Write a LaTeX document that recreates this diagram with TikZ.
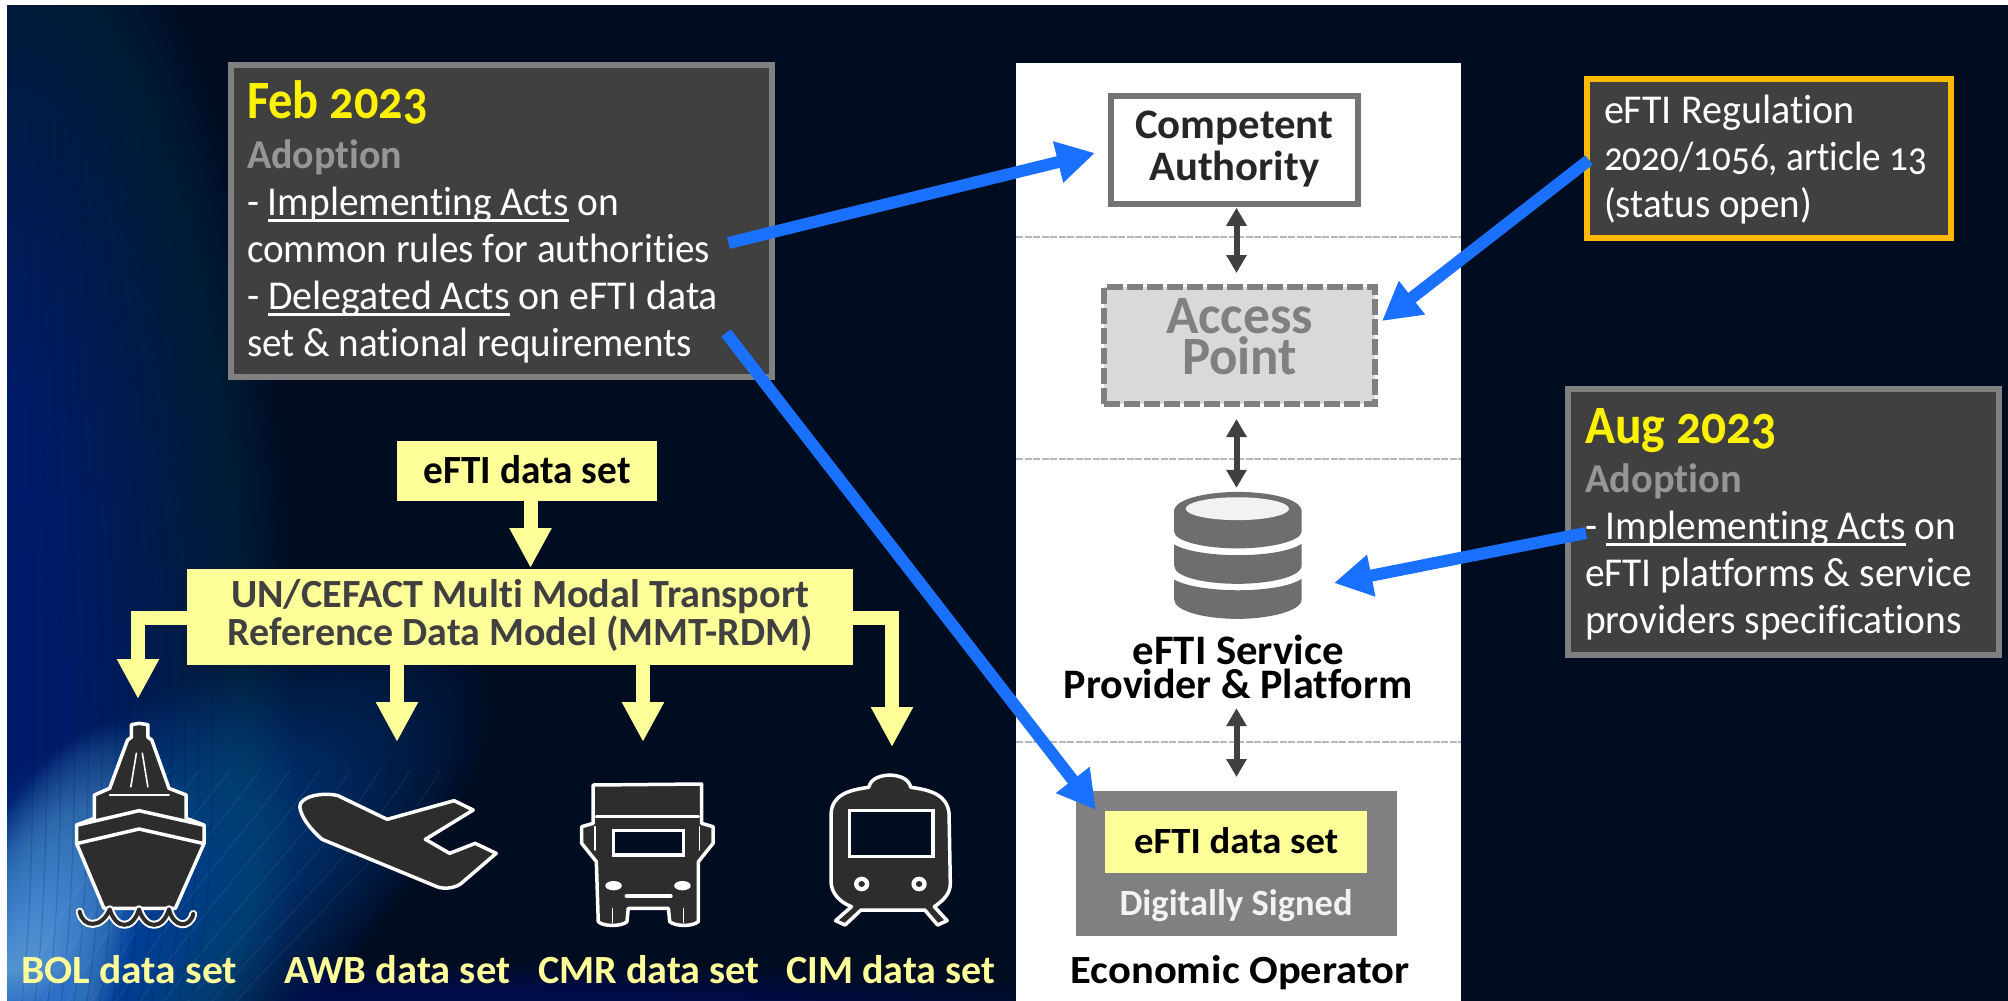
\documentclass[tikz,border=0pt]{standalone}
\usepackage{graphicx}
\usepackage{fontspec}
\setmainfont[Numbers=OldStyle,Ligatures=NoCommon]{Carlito}
\usetikzlibrary{arrows.meta,calc}
\definecolor{navy}{HTML}{000C20}
\definecolor{panelgray}{HTML}{404040}
\definecolor{rimgray}{HTML}{808080}
\definecolor{softyellow}{HTML}{FFFF99}
\definecolor{arrowblue}{HTML}{1A70FF}
\definecolor{gold}{HTML}{FFB900}
\definecolor{adoptgray}{HTML}{969696}
\definecolor{dbgray}{HTML}{6E6E6E}
\definecolor{iconfill}{HTML}{2D2D2D}
\definecolor{glowa}{HTML}{0B5AA8}
\definecolor{glowb}{HTML}{7ABCF8}
\definecolor{glowc}{HTML}{2A6FC8}
\newcommand{\fw}[2]{\resizebox{#1pt}{\height}{\spaceskip=0pt\xspaceskip=0pt #2}}
\newcommand{\fnt}[2]{\fontsize{#1}{#2}\selectfont}
\newsavebox{\ulbox}
\newcommand{\ulw}[1]{\sbox{\ulbox}{#1}\rlap{\rule[-6.5pt]{\wd\ulbox}{2.4pt}}\usebox{\ulbox}}
\tikzset{
  x=1pt,y=-1pt,
  tbox/.style={rectangle,inner xsep=0pt,inner ysep=0pt,anchor=base west,align=left},
  infobox/.style={tbox,draw=rimgray,line width=6pt,fill=panelgray,text=white,
     font=\fnt{41}{47}},
  yellowbox/.style={tbox,fill=softyellow,align=center,font=\fnt{40}{38}\bfseries},
  yarrow/.style={draw=softyellow,line width=14pt,-{Triangle[length=40pt,width=39.5pt,fill=softyellow]}},
  barrow/.style={draw=arrowblue,line width=12pt,-{Triangle[length=38pt,width=40pt,fill=arrowblue]}},
  darrow/.style={draw=panelgray,line width=6pt,{Triangle[length=18pt,width=19.5pt,fill=panelgray]}-{Triangle[length=18pt,width=19.5pt,fill=panelgray]}},
  sepline/.style={draw=black!28,line width=1.3pt,dash pattern=on 7pt off 1.5pt},
  icon/.style={fill=iconfill,draw=white,line width=3.5pt,line join=round},
  iconline/.style={draw=white,line width=3.5pt,line cap=round},
  banner/.style={anchor=base west,inner sep=0pt,text=softyellow,font=\fnt{40}{38}\bfseries},
  dbpart/.style={fill=dbgray,draw=none},
}
\begin{document}
\begin{tikzpicture}
\useasboundingbox (0,0) rectangle (2008,1001);
\fill[white] (0,0) rectangle (2008,1001);
% ---------- background
\begin{scope}
\clip (7,5) rectangle (2008,1001);
\fill[navy] (7,5) rectangle (2008,1001);
\foreach \i [evaluate=\i as \r using 300-3.5*\i, evaluate=\i as \s using 900-8.5*\i] in {1,...,80}
  \fill[glowa,fill opacity=0.014] (0,720) ellipse[x radius=\r,y radius=\s];
\foreach \i [evaluate=\i as \r using 640-7.4*\i, evaluate=\i as \s using 200-2.3*\i] in {1,...,80}
  \fill[rotate around={38:(-20,1040)},glowc,fill opacity=0.02] (-20,1040) ellipse[x radius=\r,y radius=\s];
\foreach \i [evaluate=\i as \r using 330-4*\i, evaluate=\i as \s using 100-1.2*\i] in {1,...,80}
  \fill[rotate around={68:(0,1030)},glowb,fill opacity=0.022] (0,1030) ellipse[x radius=\r,y radius=\s];
\foreach \i [evaluate=\i as \r using 800-9*\i, evaluate=\i as \s using 70-.75*\i] in {1,...,80}
  \fill[glowc,fill opacity=0.006] (450,1030) ellipse[x radius=\r,y radius=\s];
\foreach \k in {0,...,13}
  \draw[navy,opacity=0.16,line width=1.2pt] (22+13*\k,1001) .. controls (45+15*\k,800) and (25+13*\k,400) .. (30+10*\k,120);
\foreach \k in {0,...,9}
  \draw[white,opacity=0.06,line width=1.2pt] (20+24*\k,1001) .. controls (60+30*\k,900) and (120+32*\k,830) .. (170+30*\k,770);
\end{scope}
% ---------- white panel
\node[fill=white,minimum width=445pt,minimum height=938pt,inner sep=0pt,anchor=north west] (panel) at (1016,63) {};
\draw[sepline] (panel.west |- 0,237) -- (panel.east |- 0,237);
\draw[sepline] (panel.west |- 0,459) -- (panel.east |- 0,459);
\draw[sepline] (panel.west |- 0,742) -- (panel.east |- 0,742);
% ---------- info boxes
\node[infobox,text width=509pt,inner xsep=16pt,text height=53pt,text depth=259pt] (feb) at (228,118)
 {\fw{181}{\fnt{54}{47}\bfseries\color{yellow}Feb 2023}\\[3pt]
  \fw{155}{\bfseries\color{adoptgray}Adoption}\\
  \fw{372}{- \ulw{Implementing Acts} on}\\
  \fw{463}{common rules for authorities}\\
  \fw{471}{- \ulw{Delegated Acts} on eFTI data}\\
  \fw{445}{set \& national requirements}};
\node[infobox,draw=gold,text width=330pt,inner xsep=17pt,text height=44pt,text depth=115pt] (reg) at (1584,123)
 {\fw{251}{eFTI Regulation}\\
  \fw{323}{2020/1056, article 13}\\
  \fw{208}{(status open)}};
\node[infobox,text width=397pt,inner xsep=17pt,text height=54pt,text depth=212pt] (aug) at (1565,443)
 {\fw{192}{\fnt{54}{47}\bfseries\color{yellow}Aug 2023}\\[2pt]
  \fw{157}{\bfseries\color{adoptgray}Adoption}\\
  \fw{371}{- \ulw{Implementing Acts} on}\\
  \fw{387}{eFTI platforms \& service}\\
  \fw{377}{providers specifications}};
% ---------- yellow model boxes
\node[yellowbox,text width=260pt,text height=42pt,text depth=18pt] (eset) at (397,483)
 {\fw{207}{\color{black}eFTI data set}};
\node[yellowbox,text width=666pt,text height=38pt,text depth=58pt,text=panelgray] (mmt) at (187,607)
 {\fw{578}{UN/CEFACT Multi Modal Transport}\\
  \fw{585}{Reference Data Model (MMT-RDM)}};
\coordinate (tipM) at (530.5,568);
\coordinate (elbow) at (0,618);
\coordinate (tipBOL) at (138,699);
\coordinate (tipAWB) at (397,742);
\coordinate (tipCMR) at (643,742);
\coordinate (tipCIM) at (892,747);
\draw[yarrow] (tipM |- eset.south) -- (tipM);
\draw[yarrow] (mmt.west |- elbow) -| (tipBOL);
\draw[yarrow] (mmt.east |- elbow) -| (tipCIM);
\draw[yarrow] (tipAWB |- mmt.south) -- (tipAWB);
\draw[yarrow] (tipCMR |- mmt.south) -- (tipCMR);
% ---------- transport icons (drawn in crop coordinates)
\begin{scope}[shift={(0,680)},xscale=0.6378,yscale=0.33333]
 % ship
 \draw[icon] (218,130) -- (206,134) -- (206,172) -- (200,180) -- (172,325) -- (148,345) -- (148,415) -- (120,435) -- (120,490) -- (163,685) -- (275,685) -- (320,490) -- (320,435) -- (292,415) -- (292,345) -- (265,325) -- (238,180) -- (232,172) -- (232,134) -- cycle;
 \draw[white,line width=1.6pt] (205,322) -- (214,218);
 \draw[white,line width=1.6pt] (232,322) -- (223,218);
 \draw[iconline] (122,435) -- (218,392) -- (318,435);
 \draw[iconline] (122,490) -- (218,447) -- (318,490);
 \draw[iconline,line width=1.8pt] (172,345) -- (265,345);
 \draw[white,line width=8pt,line cap=round,line join=round] (125,695) .. controls (130,745) and (160,745) .. (172,688) .. controls (182,750) and (208,750) .. (218,688) .. controls (228,750) and (255,750) .. (265,688) .. controls (272,745) and (298,745) .. (303,702);
 \draw[iconfill,line width=4pt,line cap=round,line join=round] (125,695) .. controls (130,745) and (160,745) .. (172,688) .. controls (182,750) and (208,750) .. (218,688) .. controls (228,750) and (255,750) .. (265,688) .. controls (272,745) and (298,745) .. (303,702);
 % plane
 \draw[icon] (470,380) .. controls (470,350) and (505,335) .. (530,347) -- (607,418) -- (712,362) -- (742,390) -- (667,478) -- (705,520) -- (745,490) -- (778,520) -- (722,612) .. controls (712,625) and (695,628) .. (685,620) -- (505,478) .. controls (485,445) and (472,410) .. (470,380) -- cycle;
 % truck
 \draw[icon] (930,315) -- (1100,312) -- (1100,430) -- (1118,440) -- (1118,490) -- (1095,545) -- (1095,725) .. controls (1085,740) and (1060,740) .. (1050,725) -- (1048,685) -- (985,685) -- (983,725) .. controls (975,740) and (945,740) .. (938,725) -- (935,545) -- (912,490) -- (912,440) -- (930,430) -- cycle;
 \draw[iconline] (935,410) -- (1095,410);
 \draw[iconline,line width=1.5pt] (933,440) -- (933,510);
 \draw[iconline,line width=1.5pt] (1097,440) -- (1097,510);
 \draw[iconline,line width=1.5pt] (960,685) -- (960,728);
 \draw[iconline,line width=1.5pt] (1072,685) -- (1072,728);
 \draw[iconline,fill=navy] (962,452) rectangle (1072,525);
 \fill[white] (962,617) ellipse[x radius=13,y radius=14];
 \fill[white] (1070,617) ellipse[x radius=13,y radius=14];
 \draw[iconline] (982,648) -- (1052,648);
 % train
 \draw[icon] (1395,285) .. controls (1375,287) and (1365,300) .. (1362,322) .. controls (1330,330) and (1305,345) .. (1303,400) -- (1303,610) .. controls (1305,640) and (1315,665) .. (1335,680) -- (1310,722) -- (1325,735) -- (1350,690) -- (1450,690) -- (1470,735) -- (1485,722) -- (1465,680) .. controls (1480,660) and (1490,640) .. (1490,610) -- (1488,400) .. controls (1485,345) and (1460,330) .. (1428,322) .. controls (1425,300) and (1415,287) .. (1395,285) -- cycle;
 \draw[iconline,fill=navy] (1332,392) rectangle (1463,530);
 \fill[white] (1351,612) ellipse[x radius=12,y radius=22];
 \fill[white] (1441,612) ellipse[x radius=12,y radius=22];
 \fill[iconfill] (1351,612) ellipse[x radius=5,y radius=9];
 \fill[iconfill] (1441,612) ellipse[x radius=5,y radius=9];
\end{scope}
\node[banner] (bol) at (21,983) {\fw{216}{BOL data set}};
\node[banner] (awb) at (284,983) {\fw{226}{AWB data set}};
\node[banner] (cmr) at (538,983) {\fw{221}{CMR data set}};
\node[banner] (cim) at (786,983) {\fw{209}{CIM data set}};
% ---------- right column
\node[tbox,draw=rimgray!90!black,line width=5.5pt,fill=white,text=black!85,align=center,font=\fnt{42}{42}\bfseries,
   text width=247pt,text height=42pt,text depth=66pt] (ca) at (1108,138)
 {\fw{198}{Competent}\\ \fw{170}{Authority}};
\node[tbox,draw=rimgray,line width=6pt,dash pattern=on 16pt off 4pt,fill=black!15,text=rimgray,align=center,font=\fnt{54}{41}\bfseries,
   text width=271pt,text height=46pt,text depth=71pt] (ap) at (1101,333)
 {\fw{147}{Access}\\ \fw{115}{Point}};
\node[minimum width=128pt,minimum height=127pt,inner sep=0pt] (db) at (1237.5,555.5) {};
\begin{scope}[shift={(1000,440)},xscale=0.33333,yscale=0.35778]
 \fill[dbpart] (522,200) .. controls (522,160) and (640,145) .. (713,145) .. controls (790,145) and (905,160) .. (905,200) -- (905,255) .. controls (905,285) and (800,303) .. (713,303) .. controls (620,303) and (522,285) .. (522,255) -- cycle;
 \fill[black!5] (712,192) ellipse[x radius=155,y radius=32];
 \fill[dbpart] (522,292) .. controls (560,312) and (640,322) .. (713,322) .. controls (790,322) and (870,312) .. (905,290) -- (905,350) .. controls (905,385) and (800,402) .. (713,402) .. controls (620,402) and (522,385) .. (522,350) -- cycle;
 \fill[dbpart] (522,390) .. controls (560,410) and (640,420) .. (713,420) .. controls (790,420) and (870,410) .. (905,388) -- (905,445) .. controls (905,480) and (800,500) .. (713,500) .. controls (620,500) and (522,480) .. (522,445) -- cycle;
\end{scope}
\node[tbox,align=center,text=black,font=\fnt{42}{34}\bfseries,text width=360pt,text depth=44pt] (svc) at (1058,664)
 {\fw{211}{eFTI Service}\\ \fw{349}{Provider \& Platform}};
\node[fill=rimgray,inner sep=0pt,minimum width=321pt,minimum height=145pt,anchor=north west] (eo) at (1076,791) {};
\node[tbox,fill=softyellow,align=center,text=black,font=\fnt{37}{36}\bfseries,text width=262pt,text height=42pt,text depth=20pt] (edata) at (1105,853)
 {\fw{204}{eFTI data set}};
\node[anchor=base,inner sep=0pt,text=black!5,font=\fnt{37}{36}\bfseries] (sig) at (1236,915) {\fw{233}{Digitally Signed}};
\node[anchor=base,inner sep=0pt,text=black,font=\fnt{40}{38}\bfseries] (eop) at (1240,983) {\fw{339}{Economic Operator}};
% ---------- double arrows
\coordinate (col) at (1236.5,0);
\draw[darrow,shorten <=1pt,shorten >=11pt] (ca.south -| col) -- (ap.north -| col);
\draw[darrow,shorten <=12pt,shorten >=4pt] (ap.south -| col) -- (db.north -| col);
\draw[darrow,shorten >=14pt] (svc.south -| col) -- (eo.north -| col);
% ---------- blue arrows
\coordinate (a1s) at (728.5,243);
\coordinate (a1t) at (1095,153);
\coordinate (a2s) at (726,333);
\coordinate (a2t) at (1096,810);
\coordinate (a3s) at (1589,160);
\coordinate (a3t) at (1382,321);
\coordinate (a4s) at (1586,533);
\coordinate (a4t) at (1334,583);
\draw[barrow] (a1s) -- (a1t);
\draw[barrow] (a2s) -- (a2t);
\draw[barrow] (a3s) -- (a3t);
\draw[barrow] (a4s) -- (a4t);
\end{tikzpicture}
\end{document}
